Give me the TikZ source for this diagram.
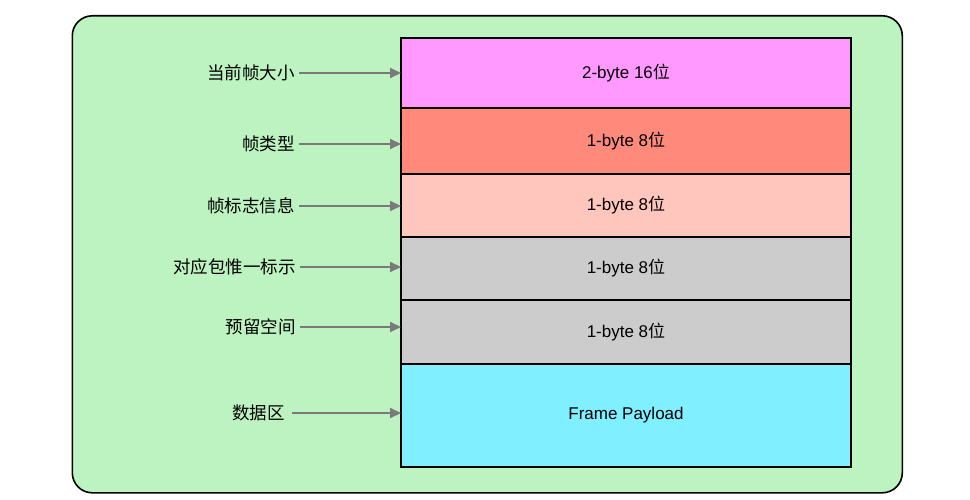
\documentclass[tikz,border=0pt]{standalone}
\usepackage{fontspec}
\setmainfont{Noto Sans CJK SC}
\newfontfamily\latinfont{Liberation Sans}
\usetikzlibrary{arrows.meta}
\definecolor{bggreen}{HTML}{BDF3C0}
\definecolor{cpink}{HTML}{FF99FF}
\definecolor{cred}{HTML}{FF897A}
\definecolor{clpink}{HTML}{FFC6BD}
\definecolor{cgray}{HTML}{CCCCCC}
\definecolor{ccyan}{HTML}{80EFFF}
\definecolor{arrowgray}{HTML}{7A7A7A}
\begin{document}
\begin{tikzpicture}[x=1pt,y=-1pt,
  field/.style={draw=black,line width=1.5pt,minimum width=450pt,inner sep=0pt,outer sep=0pt,font=\fontsize{17}{19}\selectfont},
  lbl/.style={anchor=east,inner sep=0pt,font=\fontsize{17.5}{19}\selectfont},
  conn/.style={draw=arrowgray,line width=2pt,-{Triangle[length=11pt,width=10pt]}}]
\useasboundingbox (0,0) rectangle (970,500);
\node[draw=black,line width=1.6pt,fill=bggreen,rounded corners=20pt,minimum width=830pt,minimum height=477pt,anchor=north west] (frame) at (71.5,15) {};
\node[field,fill=cpink,minimum height=70pt,anchor=north west] (f1) at (401,38) {{\latinfont 2-byte 16}位};
\node[field,fill=cred,minimum height=66pt,anchor=north west] (f2) at (401,108) {{\latinfont 1-byte 8}位};
\node[field,fill=clpink,minimum height=63pt,anchor=north west] (f3) at (401,174) {{\latinfont 1-byte 8}位};
\node[field,fill=cgray,minimum height=63pt,anchor=north west] (f4) at (401,237) {{\latinfont 1-byte 8}位};
\node[field,fill=cgray,minimum height=64pt,anchor=north west] (f5) at (401,300) {{\latinfont 1-byte 8}位};
\node[field,fill=ccyan,minimum height=103pt,anchor=north west] (f6) at (401,364) {\latinfont Frame Payload};
\node[lbl] (l1) at (295,73) {当前帧大小};
\node[lbl] (l2) at (295,144) {帧类型};
\node[lbl] (l3) at (295,206) {帧标志信息};
\node[lbl] (l4) at (296,267) {对应包惟一标示};
\node[lbl] (l5) at (296,327) {预留空间};
\node[lbl] (l6) at (285,413) {数据区};
\draw[conn] (l1.east) ++(4,0) coordinate (s1) -- (s1 -| f1.west);
\draw[conn] (l2.east) ++(4,0) coordinate (s2) -- (s2 -| f2.west);
\draw[conn] (l3.east) ++(4,0) coordinate (s3) -- (s3 -| f3.west);
\draw[conn] (l4.east) ++(4,0) coordinate (s4) -- (s4 -| f4.west);
\draw[conn] (l5.east) ++(4,0) coordinate (s5) -- (s5 -| f5.west);
\draw[conn] (l6.east) ++(7,0) coordinate (s6) -- (s6 -| f6.west);
\end{tikzpicture}
\end{document}
